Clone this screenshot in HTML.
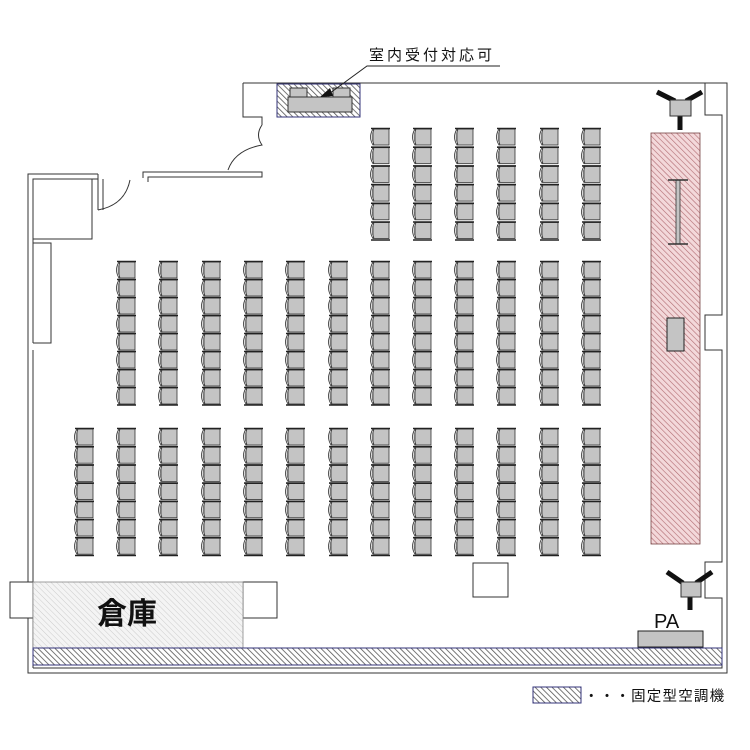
<!DOCTYPE html>
<html><head><meta charset="utf-8"><style>
html,body{margin:0;padding:0;background:#fff}
svg{display:block}
text{font-family:"Liberation Sans","Noto Sans CJK JP",sans-serif}
</style></head><body>
<svg width="750" height="750" viewBox="0 0 750 750" xmlns="http://www.w3.org/2000/svg">
<defs>
<pattern id="hb" width="4" height="4" patternUnits="userSpaceOnUse" patternTransform="rotate(-45)">
<rect width="4" height="4" fill="#fff"/><line x1="0" y1="0" x2="0" y2="4" stroke="#555" stroke-width="1.6"/></pattern>
<pattern id="hr" width="4" height="4" patternUnits="userSpaceOnUse" patternTransform="rotate(-45)">
<rect width="4" height="4" fill="#f3d8da"/><line x1="0" y1="0" x2="0" y2="4" stroke="#b06a70" stroke-width="1.2"/></pattern>
<pattern id="hg" width="4" height="4" patternUnits="userSpaceOnUse" patternTransform="rotate(-45)">
<rect width="4" height="4" fill="#f4f4f4"/><line x1="0" y1="0" x2="0" y2="4" stroke="#ccc" stroke-width="1"/></pattern>
<g id="ch">
<rect x="4" y="1" width="16" height="16" fill="#c4c4c4" stroke="#333" stroke-width="0.8"/>
<path d="M4 1 Q-1 9 4 17" fill="#ddd" stroke="#333" stroke-width="0.8"/>
<path d="M5 1.5 Q1.5 9 5 16.5" fill="none" stroke="#333" stroke-width="0.6"/>
<line x1="2" y1="0.5" x2="21" y2="0.5" stroke="#222" stroke-width="1.6"/>
</g>
<g id="c6"><use href="#ch" y="0"/><use href="#ch" y="18.7"/><use href="#ch" y="37.4"/><use href="#ch" y="56.1"/><use href="#ch" y="74.8"/><use href="#ch" y="93.5"/><line x1="2" y1="112" x2="21" y2="112" stroke="#222" stroke-width="1.6"/></g>
<g id="c8"><use href="#ch" y="0"/><use href="#ch" y="18"/><use href="#ch" y="36"/><use href="#ch" y="54"/><use href="#ch" y="72"/><use href="#ch" y="90"/><use href="#ch" y="108"/><use href="#ch" y="126"/><line x1="2" y1="144" x2="21" y2="144" stroke="#222" stroke-width="1.6"/></g>
<g id="c7"><use href="#ch" y="0"/><use href="#ch" y="18.2"/><use href="#ch" y="36.4"/><use href="#ch" y="54.6"/><use href="#ch" y="72.8"/><use href="#ch" y="91"/><use href="#ch" y="109.2"/><line x1="2" y1="127.5" x2="21" y2="127.5" stroke="#222" stroke-width="1.6"/></g>
</defs>

<g fill="none" stroke="#333" stroke-width="1">
<path d="M243 83 H727 V673 H28 V174 H98"/>
<path d="M243 83 V117 H262 V125"/>
<path d="M705 83 V115 H722 V315 H705 V350 H722 V562 H705 V598 H722 V668 H33"/>
<path d="M33 668 V618 M33 582 V350 M33 343 V179 H92 V239 H33 M33 243 H51 V343 H33"/>
<path d="M98 174 V210 M103 179 V210 M92 179 H98"/>
<path d="M98 210 Q125 205 130 180"/>
<path d="M262 125 Q255 135 262 145 Q235 150 228 170"/>
<path d="M143 178 V172 H262 V177 H148 V182"/>
<rect x="10" y="582" width="23" height="36" fill="#fff"/>
<rect x="243" y="582" width="34" height="36" fill="#fff"/>
<rect x="473" y="563" width="35" height="34" fill="#fff"/>
</g>

<rect x="33" y="582" width="210" height="66" fill="url(#hg)" stroke="#888" stroke-width="0.8"/>
<text x="97" y="624" font-size="30" font-weight="bold" fill="#111">倉庫</text>
<rect x="33" y="648" width="689" height="17" fill="url(#hb)" stroke="#33337a" stroke-width="1"/>

<rect x="277" y="84" width="83" height="33" fill="url(#hb)" stroke="#33337a" stroke-width="1"/>
<rect x="288" y="97" width="64" height="15" fill="#c4c4c4" stroke="#333"/>
<rect x="290" y="88" width="17" height="9" fill="#c4c4c4" stroke="#333"/>
<rect x="333" y="88" width="17" height="9" fill="#c4c4c4" stroke="#333"/>
<text x="369" y="60" font-size="15" fill="#111" letter-spacing="3">室内受付対応可</text>
<path d="M500 66 H367 L326 96" fill="none" stroke="#222"/>
<path d="M320 97 L330 88 L333 96 Z" fill="#111"/>

<rect x="651" y="133" width="49" height="411" fill="url(#hr)" stroke="#744" stroke-width="0.8"/>
<rect x="676" y="180" width="4" height="64" fill="#c4c4c4" stroke="#333" stroke-width="0.8"/>
<line x1="668" y1="180" x2="688" y2="180" stroke="#333" stroke-width="1.5"/>
<line x1="668" y1="244" x2="688" y2="244" stroke="#333" stroke-width="1.5"/>
<rect x="667" y="318" width="17" height="33" fill="#c4c4c4" stroke="#222"/>

<g stroke="#111" stroke-width="5">
<line x1="657" y1="92" x2="675" y2="101"/><line x1="702" y1="92" x2="686" y2="101"/><line x1="680" y1="110" x2="680" y2="130"/>
<line x1="667" y1="572" x2="683" y2="583"/><line x1="712" y1="572" x2="696" y2="583"/><line x1="690" y1="595" x2="690" y2="610"/>
</g>
<rect x="670" y="100" width="21" height="16" fill="#c4c4c4" stroke="#333"/>
<rect x="681" y="582" width="20" height="15" fill="#c4c4c4" stroke="#333"/>
<text x="654" y="628" font-size="20" fill="#111">PA</text>
<rect x="638" y="631" width="65" height="16" fill="#c4c4c4" stroke="#222"/>

<use href="#c6" x="369" y="128"/><use href="#c6" x="411" y="128"/><use href="#c6" x="453" y="128"/><use href="#c6" x="495" y="128"/><use href="#c6" x="538" y="128"/><use href="#c6" x="580" y="128"/>
<use href="#c8" x="115" y="261"/><use href="#c8" x="157" y="261"/><use href="#c8" x="200" y="261"/><use href="#c8" x="242" y="261"/><use href="#c8" x="284" y="261"/><use href="#c8" x="327" y="261"/><use href="#c8" x="369" y="261"/><use href="#c8" x="411" y="261"/><use href="#c8" x="453" y="261"/><use href="#c8" x="495" y="261"/><use href="#c8" x="538" y="261"/><use href="#c8" x="580" y="261"/>
<use href="#c7" x="73" y="428"/><use href="#c7" x="115" y="428"/><use href="#c7" x="157" y="428"/><use href="#c7" x="200" y="428"/><use href="#c7" x="242" y="428"/><use href="#c7" x="284" y="428"/><use href="#c7" x="327" y="428"/><use href="#c7" x="369" y="428"/><use href="#c7" x="411" y="428"/><use href="#c7" x="453" y="428"/><use href="#c7" x="495" y="428"/><use href="#c7" x="538" y="428"/><use href="#c7" x="580" y="428"/>

<rect x="533" y="687" width="48" height="16" fill="url(#hb)" stroke="#33337a"/>
<text x="584" y="701" font-size="14.5" fill="#111" letter-spacing="1.2">・・・固定型空調機</text>
</svg>
</body></html>
